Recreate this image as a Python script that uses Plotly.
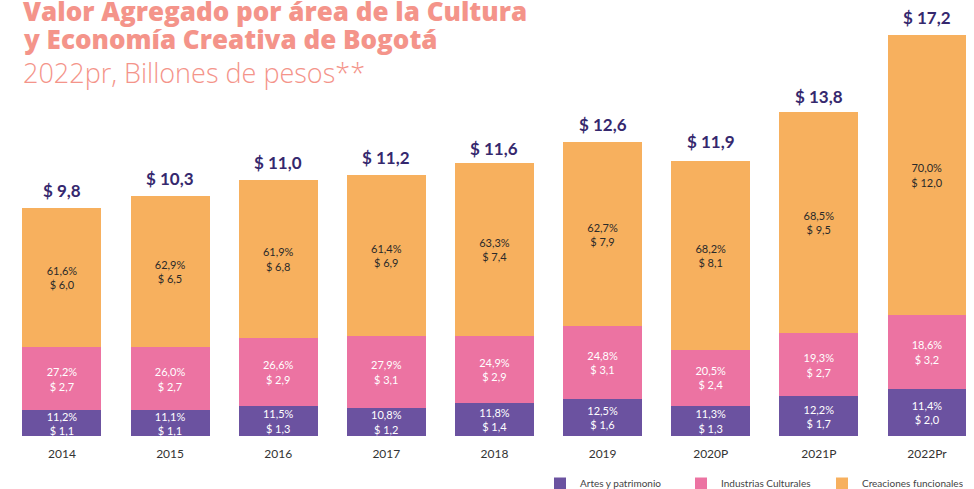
import plotly.graph_objects as go

years = ["2014", "2015", "2016", "2017", "2018", "2019", "2020P", "2021P", "2022Pr"]
artes = [1.1, 1.1, 1.3, 1.2, 1.4, 1.6, 1.3, 1.7, 2.0]
industrias = [2.7, 2.7, 2.9, 3.1, 2.9, 3.1, 2.4, 2.7, 3.2]
creaciones = [6.0, 6.5, 6.8, 6.9, 7.4, 7.9, 8.1, 9.5, 12.0]
totals = [9.8, 10.3, 11.0, 11.2, 11.6, 12.6, 11.9, 13.8, 17.2]
pct_artes = ["11,2%", "11,1%", "11,5%", "10,8%", "11,8%", "12,5%", "11,3%", "12,2%", "11,4%"]
pct_ind = ["27,2%", "26,0%", "26,6%", "27,9%", "24,9%", "24,8%", "20,5%", "19,3%", "18,6%"]
pct_cre = ["61,6%", "62,9%", "61,9%", "61,4%", "63,3%", "62,7%", "68,2%", "68,5%", "70,0%"]

def money(v):
    return "$ " + f"{v:.1f}".replace(".", ",")

def labels(pcts, vals):
    return [p + "<br>" + money(v) for p, v in zip(pcts, vals)]

FONT = "Lato"
TFONT = "Open Sans"
x = list(range(len(years)))
fig = go.Figure()
series = [
    ("Artes y patrimonio", artes, pct_artes, "#6B52A0", "white"),
    ("Industrias Culturales", industrias, pct_ind, "#EC73A2", "white"),
    ("Creaciones funcionales", creaciones, pct_cre, "#F7B05E", "#2a2a2a"),
]
for name, vals, pcts, color, tcolor in series:
    fig.add_trace(go.Bar(
        x=x, y=vals, name=name, marker=dict(color=color, line=dict(width=0)),
        width=0.73, text=labels(pcts, vals), textposition="inside",
        insidetextanchor="middle",
        textfont=dict(family=FONT, size=11, color=tcolor),
        hoverinfo="skip",
    ))

for xi, t in zip(x, totals):
    fig.add_annotation(x=xi, y=t, xref="x", yref="y", text="<b>" + money(t) + "</b>",
                       showarrow=False, yanchor="bottom", yshift=5,
                       font=dict(family=FONT, size=17, color="#35286E"))

fig.update_layout(
    barmode="stack",
    width=974, height=489,
    margin=dict(l=0, r=0, t=0, b=53, autoexpand=False),
    paper_bgcolor="white", plot_bgcolor="white",
    uniformtext=dict(minsize=11, mode="show"),
    xaxis=dict(range=[-0.573, 8.435], tickvals=x, ticktext=years,
               showgrid=False, zeroline=False, showline=False,
               ticks="outside", ticklen=7, tickcolor="rgba(0,0,0,0)",
               tickfont=dict(family=FONT, size=12, color="#333333")),
    yaxis=dict(range=[0, 18.71], visible=False),
    legend=dict(orientation="h", x=540 / 974, xanchor="left", y=-0.0757, yanchor="top",
                font=dict(family=FONT, size=10, color="#444444"),
                traceorder="normal", entrywidth=96, itemwidth=30),
    showlegend=True,
)

title_color = "#F4948A"
fig.add_annotation(xref="paper", yref="paper", x=0.0, y=1.0, xanchor="left", yanchor="top",
                   xshift=21, yshift=9, align="left", showarrow=False,
                   text="Valor Agregado por área de la Cultura",
                   font=dict(family=TFONT, size=26, color=title_color, weight=800))
fig.add_annotation(xref="paper", yref="paper", x=0.0, y=1.0, xanchor="left", yanchor="top",
                   xshift=21, yshift=-19, align="left", showarrow=False,
                   text="y Economía Creativa de Bogotá",
                   font=dict(family=TFONT, size=26, color=title_color, weight=800))
fig.add_annotation(xref="paper", yref="paper", x=0.0, y=1.0, xanchor="left", yanchor="top",
                   xshift=21, yshift=-52, align="left", showarrow=False,
                   text="2022pr, Billones de pesos**",
                   font=dict(family=TFONT, size=27, color=title_color, weight=300))

fig.write_html("out.html", config={"displayModeBar": False},
               post_script="document.body.style.margin='0';")
